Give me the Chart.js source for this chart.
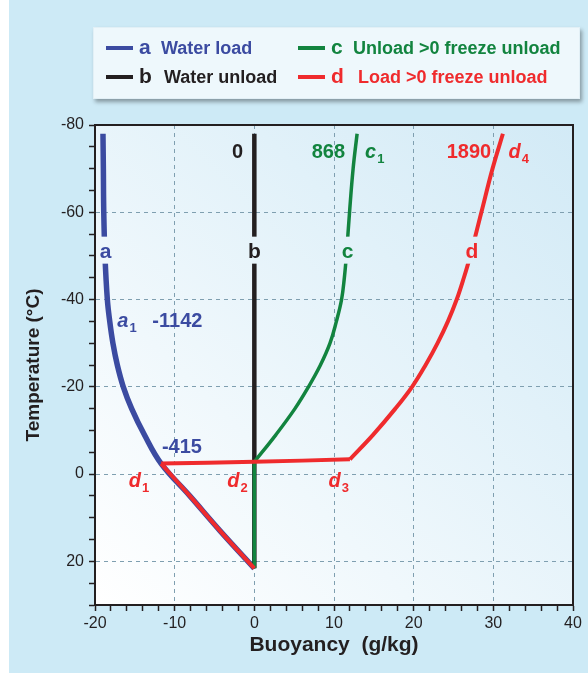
<!DOCTYPE html>
<html>
<head>
<meta charset="utf-8">
<script src="https://cdn.jsdelivr.net/npm/chart.js@4.4.0/dist/chart.umd.min.js"></script>
<style>
html, body { margin: 0; padding: 0; background: #ffffff; }
#wrap { position: relative; width: 588px; height: 673px; overflow: hidden; }
#bg { position: absolute; left: 9px; top: 0; right: 0; bottom: 0; background: #cdeaf6; }
#canvChart { position: absolute; left: 0; top: 0; }
#legend {
    position: absolute; left: 93px; top: 27px; width: 485px; height: 70px;
    background: #eef8fc; border: 1px solid #e2f0f6;
    box-shadow: 2px 3px 4px rgba(0, 0, 0, 0.35);
    font-family: "Liberation Sans", Arial, sans-serif; font-weight: bold;
}
#legend .ln { position: absolute; width: 27px; height: 4px; }
#legend .lt { position: absolute; font-size: 21px; line-height: 24px; white-space: nowrap; }
#legend .tx { position: absolute; font-size: 18px; line-height: 24px; white-space: nowrap; }
</style>
</head>
<body>
<div id="wrap">
    <div id="bg"></div>
    <canvas id="canvChart" width="588" height="673"></canvas>
    <div id="legend">
        <span class="ln" style="left:12px;top:18px;background:#3b4ba1"></span>
        <span class="lt" style="left:45px;top:7px;color:#3b4ba1">a</span>
        <span class="tx" style="left:67px;top:8px;color:#3b4ba1">Water load</span>

        <span class="ln" style="left:12px;top:47px;background:#231f20"></span>
        <span class="lt" style="left:45px;top:36px;color:#231f20">b</span>
        <span class="tx" style="left:70px;top:37px;color:#231f20">Water unload</span>

        <span class="ln" style="left:204px;top:18px;background:#12843f"></span>
        <span class="lt" style="left:237px;top:7px;color:#12843f">c</span>
        <span class="tx" style="left:259px;top:8px;color:#12843f">Unload &gt;0 freeze unload</span>

        <span class="ln" style="left:204px;top:47px;background:#ef2b2d"></span>
        <span class="lt" style="left:237px;top:36px;color:#ef2b2d">d</span>
        <span class="tx" style="left:264px;top:37px;color:#ef2b2d">Load &gt;0 freeze unload</span>
    </div>
</div>

<script>
// a: water load
var tempA = [-78, -70, -60, -50, -40, -35, -30, -25, -20, -15, -9, -2.4, 5, 13, 21.6];
var buoyA = [-19.0, -18.95, -18.9, -18.75, -18.45, -18.15, -17.75, -17.2, -16.45, -15.4, -13.8, -11.7, -8.1, -4.3, 0];

// b: water unload
var tempB = [-78, 21.6];
var buoyB = [0, 0];

// c: unload, >0 freeze, unload (corner where the freezing starts)
var tempC = [21.6, -2.8, -9, -15, -20, -25, -30, -35, -40, -45, -50, -60, -70, -78];
var buoyC = [0, 0, 2.7, 5.1, 6.8, 8.3, 9.5, 10.3, 10.95, 11.3, 11.55, 11.95, 12.4, 12.9];
var cornersC = [1];

// d: load, >0 freeze, unload (corners at d1 and d3)
var tempD = [21.6, 13, 5, -2.4, -2.8, -3.4, -9, -15, -20, -25, -30, -35, -40, -45, -50, -60, -70, -78];
var buoyD = [0, -4.3, -8.1, -11.7, 0, 12.0, 14.9, 17.7, 19.8, 21.5, 23.0, 24.3, 25.4, 26.3, 27.1, 28.5, 29.9, 31.2];
var cornersD = [3, 5];

var xLabels = [-20, -10, 0, 10, 20, 30, 40];
var yLabels = [-80, -60, -40, -20, 0, 20];

var colA = '#3b4ba1', colB = '#231f20', colC = '#12843f', colD = '#ef2b2d';
var gridColor = '#7f9fb0';
var fontFamily = '"Liberation Sans", Arial, sans-serif';

// text put on the plot
var curveNames = [
    ['a', -18.67, -49.6, colA],
    ['b', 0, -49.6, colB],
    ['c', 11.7, -49.6, colC],
    ['d', 27.3, -49.6, colD]
];
// [text, subscript, x, temp, color, italic]
var notes = [
    ['0', '', -2.8, -72.5, colB, false],
    ['868', '', 7.2, -72.5, colC, false],
    ['c', '1', 13.9, -72.5, colC, true],
    ['1890', '', 24.15, -72.5, colD, false],
    ['d', '4', 31.9, -72.5, colD, true],
    ['a', '1', -17.2, -33.6, colA, true],
    ['-1142', '', -12.8, -33.7, colA, false],
    ['-415', '', -11.6, -4.9, colA, false],
    ['d', '1', -15.75, 2.9, colD, true],
    ['d', '2', -3.4, 2.9, colD, true],
    ['d', '3', 9.3, 2.9, colD, true]
];

var _chart, _plotGradient;

function each(list, fn) {
    for (var i = 0; i < list.length; i++) fn(i, list[i]);
}

function toPoints(temps, buoys, from, to) {
    var pts = [];
    for (var i = from; i <= to; i++) {
        pts.push({x: buoys[i], y: temps[i]});
    }
    return pts;
}

function splitAt(temps, buoys, corners) {
    var cuts = [0].concat(corners).concat([temps.length - 1]);
    var parts = [];
    for (var i = 0; i < cuts.length - 1; i++) {
        parts.push(toPoints(temps, buoys, cuts[i], cuts[i + 1]));
    }
    return parts;
}

function lineSet(points, color, width, order) {
    return {
        data: points,
        showLine: true,
        borderColor: color,
        backgroundColor: color,
        borderWidth: width,
        pointRadius: 0,
        pointHoverRadius: 0,
        tension: 0.4,
        fill: false,
        order: order
    };
}

function rangeTicks(min, max, step) {
    var list = [];
    for (var v = min; v <= max; v += step) {
        list.push({value: v});
    }
    return list;
}

var plotBackground = {
    id: 'plotBackground',
    beforeDraw: function (chart) {
        var a = chart.chartArea, ctx = chart.ctx;
        _plotGradient = ctx.createLinearGradient(a.left, a.bottom, a.right, a.top);
        _plotGradient.addColorStop(0, '#ffffff');
        _plotGradient.addColorStop(1, '#d2eaf6');
        ctx.save();
        ctx.fillStyle = _plotGradient;
        ctx.fillRect(a.left, a.top, a.right - a.left, a.bottom - a.top);
        ctx.restore();
    }
};

var plotTexts = {
    id: 'plotTexts',
    afterDatasetsDraw: function (chart) {
        var ctx = chart.ctx, a = chart.chartArea;
        var sx = chart.scales.x, sy = chart.scales.y;
        ctx.save();

        // curve letters sitting in a gap of their line
        ctx.font = 'bold 21px ' + fontFamily;
        ctx.textAlign = 'center';
        ctx.textBaseline = 'alphabetic';
        each(curveNames, function (i, item) {
            var px = sx.getPixelForValue(item[1]);
            var py = sy.getPixelForValue(item[2]);
            var w = ctx.measureText(item[0]).width;
            ctx.fillStyle = _plotGradient;
            ctx.fillRect(px - w / 2 - 2, py - 21, w + 4, 27);
            ctx.fillStyle = item[3];
            ctx.fillText(item[0], px, py);
        });

        ctx.textAlign = 'left';
        each(notes, function (i, item) {
            var px = sx.getPixelForValue(item[2]);
            var py = sy.getPixelForValue(item[3]);
            ctx.fillStyle = item[4];
            ctx.font = (item[5] ? 'italic ' : '') + 'bold 20px ' + fontFamily;
            ctx.fillText(item[0], px, py);
            if (item[1] !== '') {
                var w = ctx.measureText(item[0]).width;
                ctx.font = 'bold 13px ' + fontFamily;
                ctx.fillText(item[1], px + w + 1, py + 5);
            }
        });

        // top and right edge of the frame
        ctx.strokeStyle = '#231f20';
        ctx.lineWidth = 2;
        ctx.beginPath();
        ctx.moveTo(a.left, a.top);
        ctx.lineTo(a.right, a.top);
        ctx.lineTo(a.right, a.bottom);
        ctx.stroke();
        ctx.restore();
    }
};

function buildChart() {
    var datasets = [];
    datasets.push(lineSet(toPoints(tempA, buoyA, 0, tempA.length - 1), colA, 5.5, 4));
    datasets.push(lineSet(toPoints(tempB, buoyB, 0, tempB.length - 1), colB, 4.5, 3));
    each(splitAt(tempC, buoyC, cornersC), function (i, part) {
        datasets.push(lineSet(part, colC, 3.5, 2));
    });
    each(splitAt(tempD, buoyD, cornersD), function (i, part) {
        datasets.push(lineSet(part, colD, 4, 1));
    });

    var ctxChart = document.getElementById('canvChart').getContext('2d');

    _chart = new Chart(ctxChart, {
        type: 'scatter',
        data: {datasets: datasets},
        plugins: [plotBackground, plotTexts],
        options: {
            responsive: false,
            maintainAspectRatio: false,
            animation: false,
            layout: {padding: {left: 0, right: 15, top: 125, bottom: 0}},
            plugins: {
                legend: {display: false},
                tooltip: {enabled: false}
            },
            scales: {
                x: {
                    type: 'linear',
                    min: -20,
                    max: 40,
                    afterBuildTicks: function (scale) {
                        scale.ticks = rangeTicks(-20, 40, 2);
                    },
                    afterFit: function (scale) {
                        scale.height = 68;
                    },
                    ticks: {
                        autoSkip: false,
                        maxRotation: 0,
                        padding: 3,
                        color: '#231f20',
                        font: {family: fontFamily, size: 16},
                        callback: function (v) {
                            return xLabels.indexOf(v) >= 0 ? String(v) : '';
                        }
                    },
                    grid: {
                        color: function (c) {
                            var v = c.tick ? c.tick.value : null;
                            return (xLabels.indexOf(v) > 0 && v !== 40) ? gridColor : 'rgba(0,0,0,0)';
                        },
                        lineWidth: 1,
                        drawTicks: true,
                        tickLength: 6,
                        tickWidth: 1.5,
                        tickColor: '#231f20'
                    },
                    border: {display: true, color: '#231f20', width: 2, dash: [4, 4]},
                    title: {
                        display: true,
                        text: 'Buoyancy  (g/kg)',
                        color: '#231f20',
                        font: {family: fontFamily, size: 21, weight: 'bold'},
                        padding: {top: 0, bottom: 15}
                    }
                },
                y: {
                    type: 'linear',
                    reverse: true,
                    min: -80,
                    max: 30,
                    afterBuildTicks: function (scale) {
                        scale.ticks = rangeTicks(-80, 30, 5);
                    },
                    afterFit: function (scale) {
                        scale.width = 95;
                    },
                    ticks: {
                        autoSkip: false,
                        padding: 5,
                        color: '#231f20',
                        font: {family: fontFamily, size: 16},
                        callback: function (v) {
                            return yLabels.indexOf(v) >= 0 ? String(v) : '';
                        }
                    },
                    grid: {
                        color: function (c) {
                            var v = c.tick ? c.tick.value : null;
                            return (yLabels.indexOf(v) > 0) ? gridColor : 'rgba(0,0,0,0)';
                        },
                        lineWidth: 1,
                        drawTicks: true,
                        tickLength: 6,
                        tickWidth: 1.5,
                        tickColor: '#231f20'
                    },
                    border: {display: true, color: '#231f20', width: 2, dash: [4, 4]},
                    title: {
                        display: true,
                        text: 'Temperature (°C)',
                        color: '#231f20',
                        font: {family: fontFamily, size: 19, weight: 'bold'},
                        padding: {top: 22, bottom: 0}
                    }
                }
            }
        }
    });
}

buildChart();
</script>
</body>
</html>
